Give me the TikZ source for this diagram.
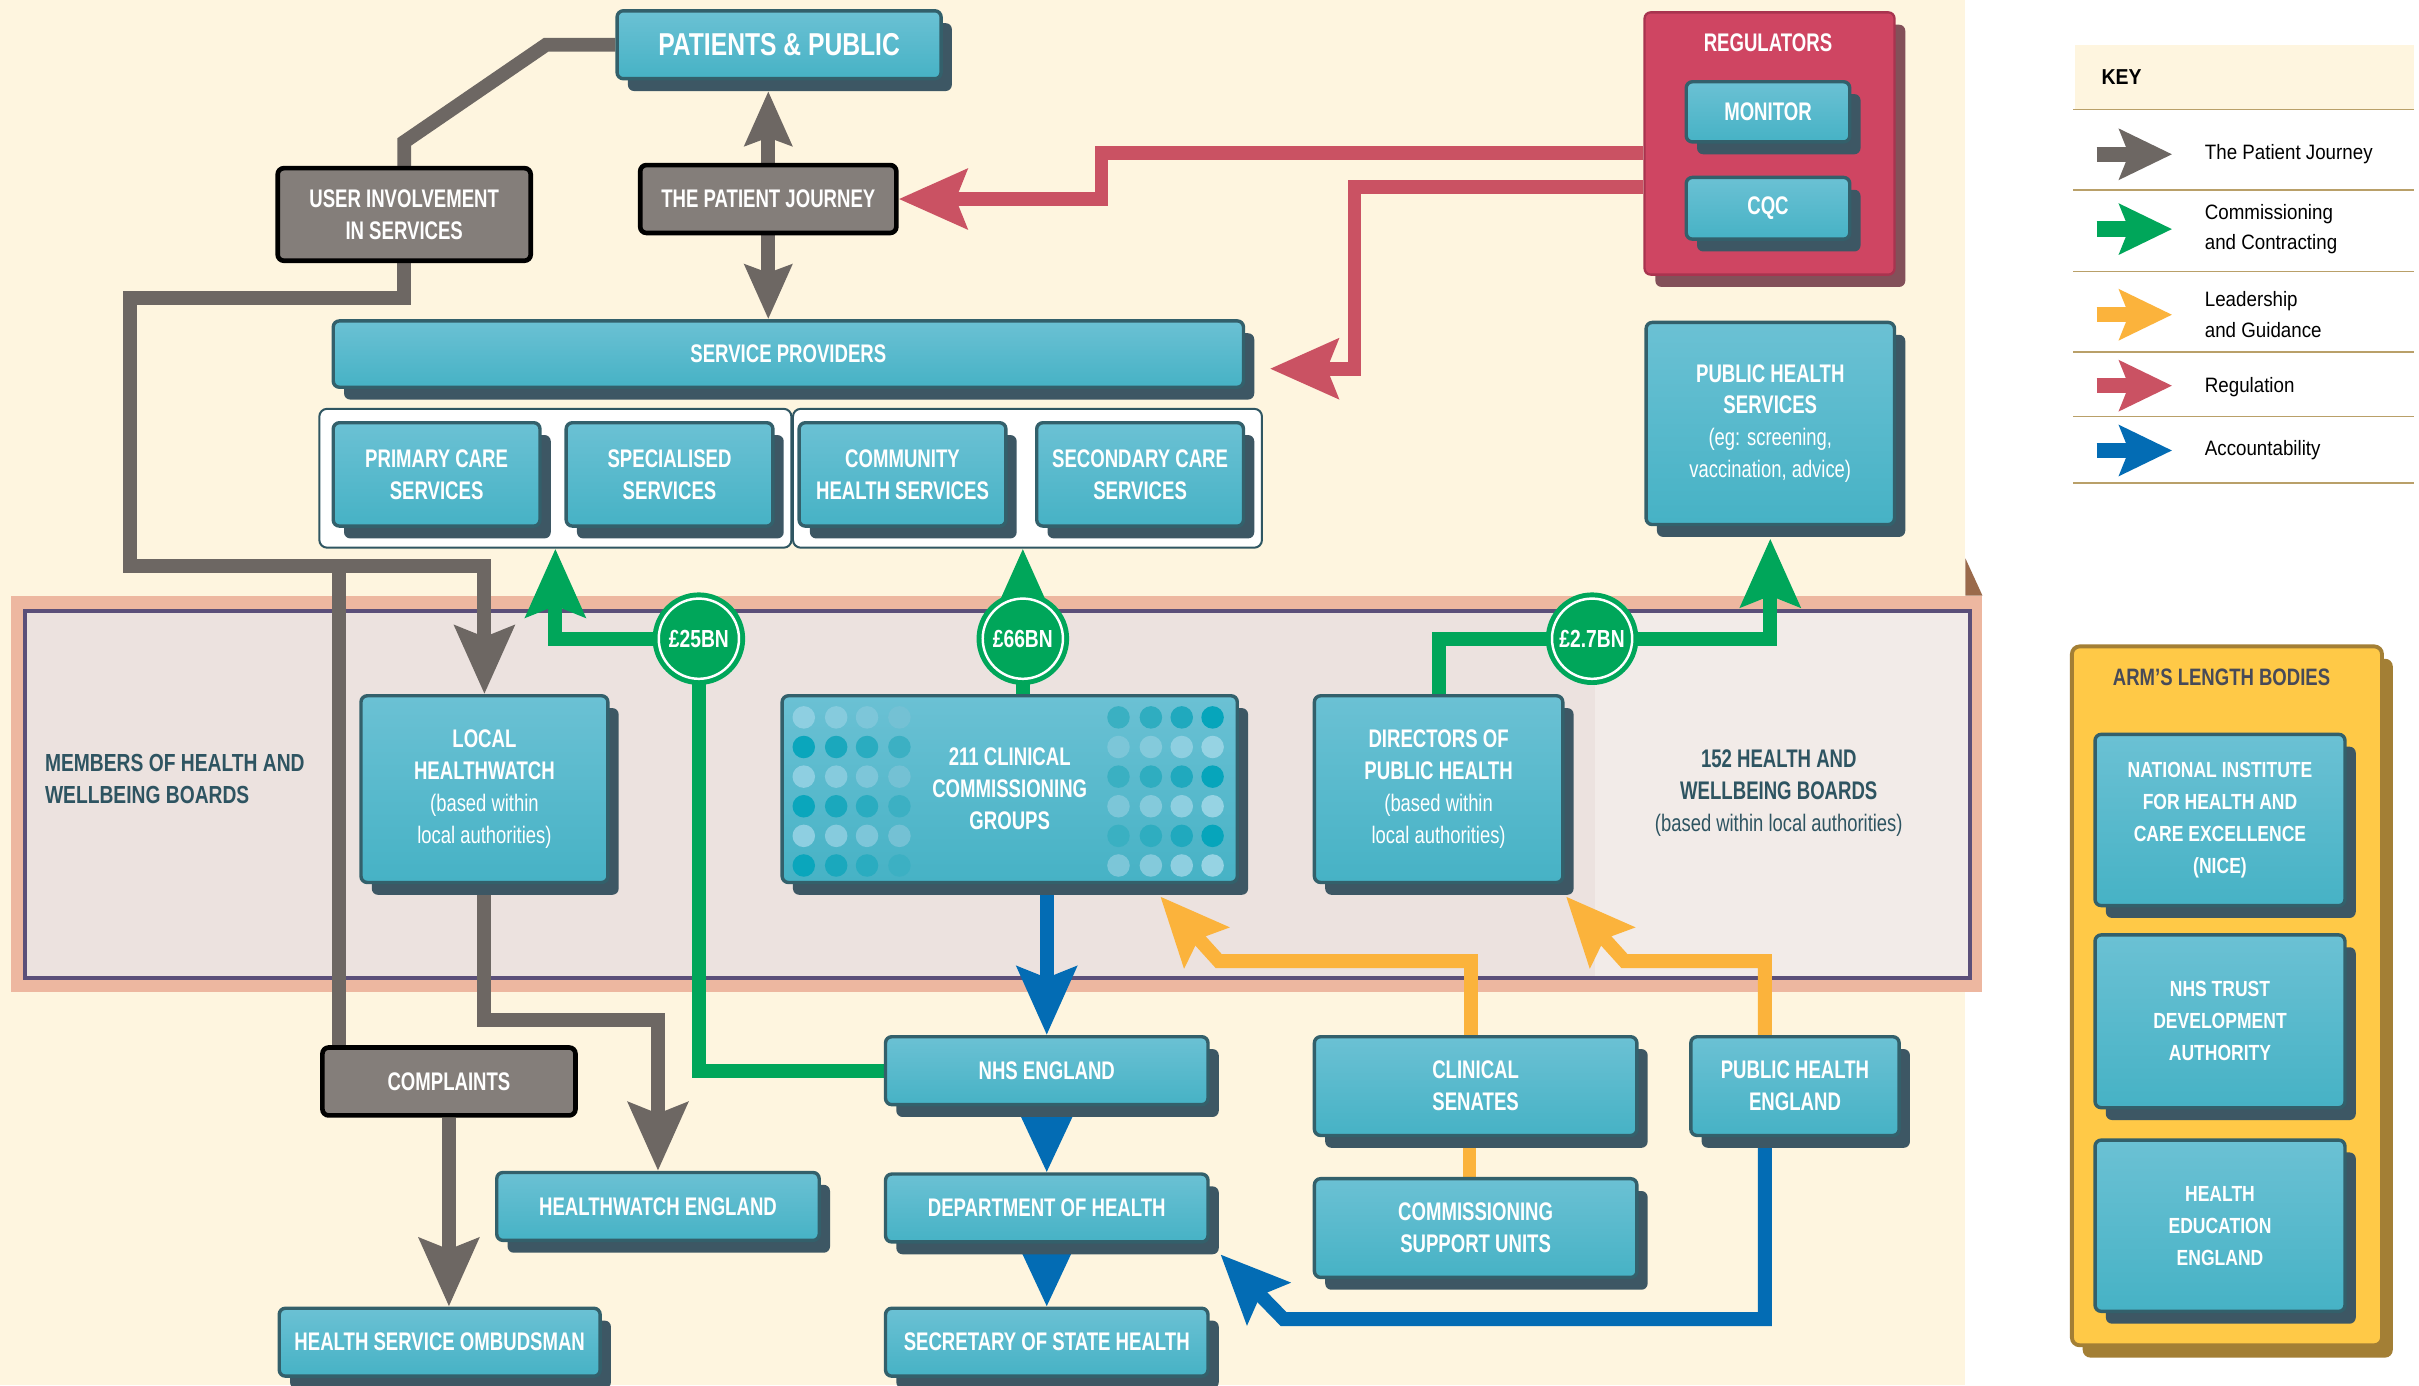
\documentclass[tikz,border=0pt]{standalone}
\usepackage{fontspec}
\usetikzlibrary{arrows.meta,shadows,calc}
\pgfdeclarelayer{back}
\pgfdeclarelayer{conn}
\pgfsetlayers{back,conn,main}

\newfontfamily\cnd[FakeStretch=0.73]{Liberation Sans}
\newfontfamily\cndr[FakeStretch=0.77]{Liberation Sans}
\newfontfamily\cndb[FakeStretch=0.78]{Liberation Sans}
\newfontfamily\cndn[FakeStretch=0.80]{Liberation Sans}
\newfontfamily\keyf[FakeStretch=0.90]{Liberation Sans}

\newcommand\fBox{\cnd\bfseries\fontsize{16.5}{20.7}\selectfont}
\newcommand\fBig{\cndb\bfseries\fontsize{20.5}{24}\selectfont}
\newcommand\fSub{\cndr\mdseries\fontsize{15.5}{20.7}\selectfont}
\newcommand\fBand{\cndb\bfseries\fontsize{16}{20.7}\selectfont}
\newcommand\fCirc{\cndb\bfseries\fontsize{16}{18}\selectfont}
\newcommand\fNice{\cndn\bfseries\fontsize{14.2}{20.7}\selectfont}
\newcommand\fAlb{\cndb\bfseries\fontsize{15.4}{18}\selectfont}
\newcommand\fKeyB{\keyf\bfseries\fontsize{14}{18}\selectfont}
\newcommand\fKeyR{\keyf\mdseries\fontsize{13.5}{20}\selectfont}

\definecolor{cream}{HTML}{FEF5DF}
\definecolor{ttop}{HTML}{6BC1D4}
\definecolor{tbot}{HTML}{46B2C5}
\definecolor{tbord}{HTML}{33606B}
\definecolor{tshad}{HTML}{3D5764}
\definecolor{gfill}{HTML}{847E7A}
\definecolor{gline}{HTML}{6D6763}
\definecolor{grn}{HTML}{00A65A}
\definecolor{ylw}{HTML}{FBB33C}
\definecolor{rd}{HTML}{CA5263}
\definecolor{blu}{HTML}{036CB4}
\definecolor{regfill}{HTML}{CF4562}
\definecolor{regbord}{HTML}{A8344F}
\definecolor{regshad}{HTML}{835059}
\definecolor{salmon}{HTML}{EDB7A0}
\definecolor{purp}{HTML}{5B4F79}
\definecolor{bandfill}{HTML}{ECE2DF}
\definecolor{bandlight}{HTML}{F2EBE8}
\definecolor{fold}{HTML}{9A6A4B}
\definecolor{slate}{HTML}{2E5461}
\definecolor{albfill}{HTML}{FFC947}
\definecolor{albbord}{HTML}{A37F35}
\definecolor{albtext}{HTML}{474A58}
\definecolor{keyline}{HTML}{B9A069}
\definecolor{grpbord}{HTML}{2F5662}
% dot colours
\definecolor{lL1}{HTML}{8ECFE1}\definecolor{lL2}{HTML}{86CBDD}\definecolor{lL3}{HTML}{7DC6D9}\definecolor{lL4}{HTML}{74C1D4}
\definecolor{dL1}{HTML}{0AA6BC}\definecolor{dL2}{HTML}{1AA8BD}\definecolor{dL3}{HTML}{2AACC0}\definecolor{dL4}{HTML}{3CB0C3}
\definecolor{dR1}{HTML}{3AB0C2}\definecolor{dR2}{HTML}{2FADC0}\definecolor{dR3}{HTML}{20A9BE}\definecolor{dR4}{HTML}{06A5BB}
\definecolor{lR1}{HTML}{7CC6D8}\definecolor{lR2}{HTML}{84CADB}\definecolor{lR3}{HTML}{8ECFE0}\definecolor{lR4}{HTML}{96D3E3}

\tikzset{
  tbox/.style={rectangle, rounded corners=4pt, draw=tbord, line width=2.2pt,
    top color=ttop, bottom color=tbot,
    drop shadow={shadow xshift=7pt, shadow yshift=-8pt, fill=tshad, opacity=1},
    text=white, align=center, inner sep=0pt, font=\fBox},
  gbox/.style={rectangle, rounded corners=4pt, draw=black, line width=3pt,
    fill=gfill, text=white, align=center, inner sep=0pt, font=\fBox},
  grp/.style={rectangle, rounded corners=5pt, draw=grpbord, line width=1.3pt, fill=white, inner sep=0pt},
  regbox/.style={rectangle, rounded corners=4pt, draw=regbord, line width=1.5pt, fill=regfill,
    drop shadow={shadow xshift=7pt, shadow yshift=-8pt, fill=regshad, opacity=1}, inner sep=0pt},
  albbox/.style={rectangle, rounded corners=5pt, draw=albbord, line width=2.5pt, fill=albfill,
    drop shadow={shadow xshift=7pt, shadow yshift=-8pt, fill=albbord, opacity=1}, inner sep=0pt},
  circ/.style={circle, minimum size=52pt, inner sep=0pt, fill=grn, draw=grn, line width=3.2pt,
    double=white, double distance=1.6pt, text=white, font=\fCirc},
  cline/.style={line width=9pt, line join=miter, line cap=butt, miter limit=10},
  gl/.style={cline, draw=gline},
  garr/.style={cline, draw=gline, -{Stealth[length=44pt,width=38pt,inset=7pt]}},
  gsarr/.style={cline, draw=gline, -{Stealth[length=35pt,width=30pt,inset=5pt]}},
  rarr/.style={cline, draw=rd, -{Stealth[length=44pt,width=38pt,inset=7pt]}},
  grarr/.style={cline, draw=grn, -{Stealth[length=44pt,width=38pt,inset=7pt]}},
  barr/.style={cline, draw=blu, -{Stealth[length=44pt,width=38pt,inset=7pt]}},
  bsarr/.style={cline, draw=blu, -{Stealth[length=42pt,width=38pt,inset=7pt]}},
  yl/.style={cline, draw=ylw},
  yarr/.style={cline, draw=ylw, -{Stealth[length=44pt,width=38pt,inset=7pt]}},
  keyarr/.style={line width=10pt, line cap=butt, -{Stealth[length=34pt,width=32pt,inset=6pt]}},
  keytxt/.style={anchor=west, inner sep=0pt, align=left, font=\fKeyR, text=black},
  bandtxt/.style={inner sep=0pt, text=slate},
}

\begin{document}
\begin{tikzpicture}[x=1pt,y=-1pt]
\useasboundingbox (0,0) rectangle (1568,898);

% ---------------- background ----------------
\begin{pgfonlayer}{back}
\fill[white] (0,0) rectangle (1568,898);
\fill[cream] (0,0) rectangle (1274,898);
\fill[salmon] (7,386) rectangle (1285,643);
\fill[fold] (1274,362) -- (1285,386) -- (1274,386) -- cycle;
\filldraw[fill=bandfill, draw=purp, line width=2.5pt] (16,396) rectangle (1277,634);
\fill[bandlight] (1034,397.3) rectangle (1275.7,632.7);
% key
\fill[cream] (1345,29) rectangle (1565,71);
\foreach \yy in {71,123,176,228,270,313}
  \draw[keyline, line width=1.2pt] (1344,\yy) -- (1565,\yy);
\end{pgfonlayer}

% ---------------- top area ----------------
\node[tbox, minimum width=210pt, minimum height=44pt, font=\fBig] (pp) at (505,29) {PATIENTS \& PUBLIC};
\node[gbox, minimum width=166pt, minimum height=44pt] (pj) at (498,129) {THE PATIENT JOURNEY};
\node[gbox, minimum width=164pt, minimum height=60pt] (ui) at (262,139) {USER INVOLVEMENT\\IN SERVICES};
\node[tbox, minimum width=590pt, minimum height=43pt] (sp) at (511,229.5) {SERVICE PROVIDERS};

\node[grp, minimum width=306pt, minimum height=90pt] (grpL) at (360,310) {};
\node[grp, minimum width=304pt, minimum height=90pt] (grpR) at (666,310) {};
\node[tbox, minimum width=134pt, minimum height=67pt] (pcs) at (283,307.5) {PRIMARY CARE\\SERVICES};
\node[tbox, minimum width=134pt, minimum height=67pt] (ss) at (434,307.5) {SPECIALISED\\SERVICES};
\node[tbox, minimum width=134pt, minimum height=67pt] (chs) at (585,307.5) {COMMUNITY\\HEALTH SERVICES};
\node[tbox, minimum width=134pt, minimum height=67pt] (scs) at (739,307.5) {SECONDARY CARE\\SERVICES};

% regulators
\node[regbox, minimum width=162pt, minimum height=170pt] (reg) at (1147,93) {};
\node[font=\fBox, text=white, inner sep=0pt] (regt) at (1146,28) {REGULATORS};
\node[tbox, minimum width=106pt, minimum height=39pt] (mon) at (1146,72.5) {MONITOR};
\node[tbox, minimum width=106pt, minimum height=40pt] (cqc) at (1146,135) {CQC};

\node[tbox, minimum width=161pt, minimum height=131pt] (phs) at (1147.5,274.5)
  {PUBLIC HEALTH\\SERVICES\\\fSub (eg: screening,\\\fSub vaccination, advice)};

% ---------------- band ----------------
\node[bandtxt, anchor=west, align=left, font=\fBand] (mem) at (29,505) {MEMBERS OF HEALTH AND\\WELLBEING BOARDS};
\node[tbox, minimum width=160pt, minimum height=121pt] (lhw) at (314,511.5)
  {LOCAL\\HEALTHWATCH\\\fSub (based within\\\fSub local authorities)};
\node[tbox, minimum width=295pt, minimum height=121pt] (ccg) at (654.5,511.5)
  {211 CLINICAL\\COMMISSIONING\\GROUPS};
\node[tbox, minimum width=161pt, minimum height=121pt] (dph) at (932.5,511.5)
  {DIRECTORS OF\\PUBLIC HEALTH\\\fSub (based within\\\fSub local authorities)};
\node[bandtxt, align=center, font=\fBox] (hwb) at (1153,514)
  {152 HEALTH AND\\WELLBEING BOARDS\\\fSub (based within local authorities)};

% CCG dots
\foreach \yy in {465,503.4,541.8} {
  \foreach \xx/\cc in {521/lL1,542/lL2,562/lL3,583/lL4,725/dR1,746/dR2,766/dR3,786/dR4}
    \fill[\cc] (\xx,\yy) circle[radius=7.3pt];
}
\foreach \yy in {484.2,522.6,561} {
  \foreach \xx/\cc in {521/dL1,542/dL2,562/dL3,583/dL4,725/lR1,746/lR2,766/lR3,786/lR4}
    \fill[\cc] (\xx,\yy) circle[radius=7.3pt];
}

% money circles
\node[circ] (c25) at (453,414) {£25BN};
\node[circ] (c66) at (663,414) {£66BN};
\node[circ] (c27) at (1032,414) {£2.7BN};

% ---------------- bottom ----------------
\node[gbox, minimum width=164pt, minimum height=44pt] (comp) at (291,701) {COMPLAINTS};
\node[tbox, minimum width=209pt, minimum height=44pt] (hwe) at (426.5,782) {HEALTHWATCH ENGLAND};
\node[tbox, minimum width=208pt, minimum height=44pt] (hso) at (285,870) {HEALTH SERVICE OMBUDSMAN};
\node[tbox, minimum width=209pt, minimum height=44pt] (nhse) at (678.5,694) {NHS ENGLAND};
\node[tbox, minimum width=209pt, minimum height=44pt] (doh) at (678.5,783) {DEPARTMENT OF HEALTH};
\node[tbox, minimum width=209pt, minimum height=44pt] (sos) at (678.5,870) {SECRETARY OF STATE HEALTH};
\node[tbox, minimum width=209pt, minimum height=64pt] (cs) at (956.5,704) {CLINICAL\\SENATES};
\node[tbox, minimum width=209pt, minimum height=64pt] (csu) at (956.5,796) {COMMISSIONING\\SUPPORT UNITS};
\node[tbox, minimum width=135pt, minimum height=64pt] (phe) at (1163.5,704) {PUBLIC HEALTH\\ENGLAND};

% ---------------- arm's length bodies ----------------
\node[albbox, minimum width=201pt, minimum height=453pt] (alb) at (1443.5,645.5) {};
\node[font=\fAlb, text=albtext, inner sep=0pt] (albt) at (1440,439) {ARM’S LENGTH BODIES};
\node[tbox, font=\fNice, minimum width=162pt, minimum height=111pt] (nice) at (1439,531.5)
  {NATIONAL INSTITUTE\\FOR HEALTH AND\\CARE EXCELLENCE\\(NICE)};
\node[tbox, font=\fNice, minimum width=162pt, minimum height=112pt] (tda) at (1439,662)
  {NHS TRUST\\DEVELOPMENT\\AUTHORITY};
\node[tbox, font=\fNice, minimum width=162pt, minimum height=111pt] (hee) at (1439,794.5)
  {HEALTH\\EDUCATION\\ENGLAND};

% ---------------- key ----------------
\node[anchor=west, inner sep=0pt, font=\fKeyB] (keyt) at (1362,50) {KEY};
\foreach \nm/\yy in {k1/100,k2/148.5,k3/204,k4/250,k5/292} {
  \coordinate (\nm a) at (1359,\yy);
  \coordinate (\nm b) at (1408,\yy);
}
\draw[keyarr, draw=gline] (k1a) -- (k1b);
\draw[keyarr, draw=grn] (k2a) -- (k2b);
\draw[keyarr, draw=ylw] (k3a) -- (k3b);
\draw[keyarr, draw=rd] (k4a) -- (k4b);
\draw[keyarr, draw=blu] (k5a) -- (k5b);
\node[keytxt] (kt1) at (1429,100) {The Patient Journey};
\node[keytxt] (kt2) at (1429,148.5) {Commissioning\\and Contracting};
\node[keytxt] (kt3) at (1429,204) {Leadership\\and Guidance};
\node[keytxt] (kt4) at (1429,251) {Regulation};
\node[keytxt] (kt5) at (1429,292) {Accountability};

% ---------------- connectors ----------------
\begin{pgfonlayer}{conn}
% patient journey (grey)
\draw[gl] (pp.west) -- (354,29) -- (262,92) -- (ui.north);
\draw[garr] (ui.south) -- (262,193) -- (84,193) -- (84,367) -- (314,367) -- (lhw.north);
\coordinate (jb) at (220,367);
\draw[gl] (jb) -- (jb |- comp.north);
\draw[garr] (lhw.south) -- ++(0,88) -| (hwe.north);
\draw[garr] (comp.south) -- (comp.south |- hso.north);
\draw[gsarr] (pj.north) -- ([yshift=-7pt]pj.north |- pp.south);
\draw[gsarr] (pj.south) -- (pj.south |- sp.north);
% regulation (red)
\draw[rarr] ([yshift=-6pt]reg.west) -| (714,129) -- (pj.east);
\draw[rarr] ([yshift=-28pt]reg.west) -| (878,239) -- ([shift={(16pt,-9.5pt)}]sp.east);
% commissioning (green)
\draw[grarr] (nhse.west) -| (c25.center) -| (grpL.south);
\draw[grarr] (ccg.north -| c66.center) -- (c66.center |- grpR.south);
\draw[grarr] (dph.north) |- (c27.center) -| ([yshift=-8pt]phs.south);
% accountability (blue)
\draw[barr] (ccg.south -| nhse.north) -- (nhse.north);
\draw[bsarr] (nhse.south) -- (doh.north);
\draw[bsarr] (doh.south) -- (sos.north);
\draw[barr] ([xshift=-19.5pt]phe.south) |- (832,855) -- ([shift={(7pt,-7pt)}]doh.south east);
% leadership (yellow)
\draw[yl] ([xshift=-4pt]cs.south) -- ([xshift=-4pt]csu.north);
\draw[yarr] ([xshift=-3pt]cs.north) |- (790,623) -- ([shift={(-51pt,-8pt)}]ccg.south east);
\draw[yarr] ([xshift=-19.5pt]phe.north) |- (1053,623) -- ([shift={(1pt,-8pt)}]dph.south east);
\end{pgfonlayer}
\end{tikzpicture}
\end{document}
